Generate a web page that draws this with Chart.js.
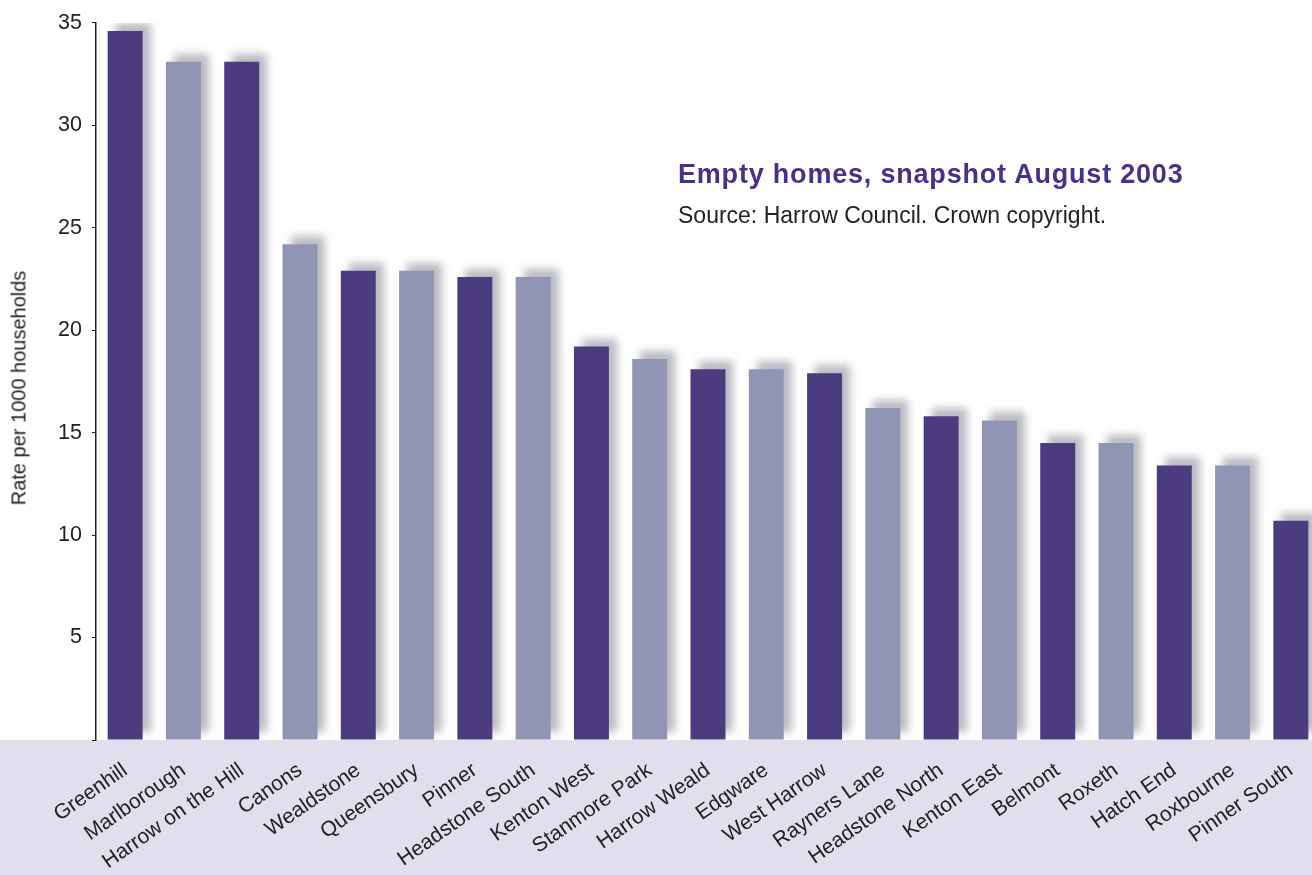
<!DOCTYPE html>
<html>
<head>
<meta charset="utf-8">
<script src="https://cdn.jsdelivr.net/npm/chart.js@4/dist/chart.umd.min.js"></script>
<style>
    html, body { margin: 0; padding: 0; background: #fff; overflow: hidden; }
    #wrap { position: relative; width: 1320px; height: 875px; }
    #title {
        position: absolute; left: 678px; top: 159px;
        font-family: "Liberation Sans", Arial, sans-serif;
        font-size: 27px; color: #4b2f8c; font-weight: bold; letter-spacing: 0.8px;
    }
    #source {
        position: absolute; left: 678px; top: 202px;
        font-family: "Liberation Sans", Arial, sans-serif;
        font-size: 23px; color: #222;
    }
    #ytitle {
        position: absolute; left: 19px; top: 388px;
        transform: translate(-50%, -50%) rotate(-90deg);
        white-space: nowrap;
        font-family: "Liberation Sans", Arial, sans-serif;
        font-size: 20px; color: #222;
    }
</style>
</head>
<body>
<div id="wrap">
    <canvas id="chart" width="1320" height="875"></canvas>
    <div id="title">Empty homes, snapshot August 2003</div>
    <div id="source">Source: Harrow Council. Crown copyright.</div>
    <div id="ytitle">Rate per 1000 households</div>
</div>
<script>
// wards, sorted by rate
const wards = ['Greenhill', 'Marlborough', 'Harrow on the Hill', 'Canons', 'Wealdstone',
    'Queensbury', 'Pinner', 'Headstone South', 'Kenton West', 'Stanmore Park',
    'Harrow Weald', 'Edgware', 'West Harrow', 'Rayners Lane', 'Headstone North',
    'Kenton East', 'Belmont', 'Roxeth', 'Hatch End', 'Roxbourne', 'Pinner South'];
const rates = [34.6, 33.1, 33.1, 24.2, 22.9, 22.9, 22.6, 22.6, 19.2, 18.6,
    18.1, 18.1, 17.9, 16.2, 15.8, 15.6, 14.5, 14.5, 13.4, 13.4, 10.7];
const yTicks = [5, 10, 15, 20, 25, 30, 35];

const DARK = '#4a3c7f';
const LIGHT = '#9095b3';
const BAND = '#e2deee';

// lavender band under the plot area
const bandPlugin = {
    id: 'band',
    beforeDraw(chart) {
        const ctx = chart.ctx;
        ctx.save();
        ctx.fillStyle = BAND;
        ctx.fillRect(0, chart.chartArea.bottom, chart.width, chart.height - chart.chartArea.bottom);
        ctx.restore();
    }
};

// soft grey drop shadow up and to the right of each bar
const shadowPlugin = {
    id: 'barShadow',
    beforeDatasetsDraw(chart) {
        const ctx = chart.ctx;
        ctx.save();
        ctx.shadowColor = 'rgba(120, 122, 135, 0.5)';
        ctx.shadowBlur = 8;
        ctx.shadowOffsetX = 8;
        ctx.shadowOffsetY = -8;
    },
    afterDatasetsDraw(chart) {
        chart.ctx.restore();
    }
};

new Chart(document.getElementById('chart'), {
    type: 'bar',
    data: {
        labels: wards,
        datasets: [{
            data: rates,
            backgroundColor: wards.map((w, i) => i % 2 === 0 ? DARK : LIGHT),
            borderWidth: 0,
            barPercentage: 0.6,
            categoryPercentage: 1.0
        }]
    },
    plugins: [bandPlugin, shadowPlugin],
    options: {
        responsive: false,
        animation: false,
        layout: { padding: { top: 20, left: 0, right: 0, bottom: 0 } },
        plugins: {
            legend: { display: false },
            tooltip: { enabled: false }
        },
        scales: {
            x: {
                grid: { display: false },
                border: { display: false },
                ticks: {
                    minRotation: 35,
                    maxRotation: 35,
                    padding: 10,
                    color: '#222',
                    font: { family: '"Liberation Sans", Arial, sans-serif', size: 21 }
                },
                afterFit(scale) { scale.height = 135; }
            },
            y: {
                min: 0,
                max: 35,
                afterBuildTicks(scale) {
                    scale.ticks = [0].concat(yTicks).map(v => ({ value: v }));
                },
                grid: {
                    drawOnChartArea: false,
                    drawTicks: true,
                    tickLength: 4,
                    color: '#222'
                },
                border: { display: true, color: '#222', width: 1.5 },
                ticks: {
                    padding: 10,
                    color: '#222',
                    font: { family: '"Liberation Sans", Arial, sans-serif', size: 21.5 },
                    callback: v => v === 0 ? '' : v
                },
                afterFit(scale) { scale.width = 96; }
            }
        }
    }
});
</script>
</body>
</html>
